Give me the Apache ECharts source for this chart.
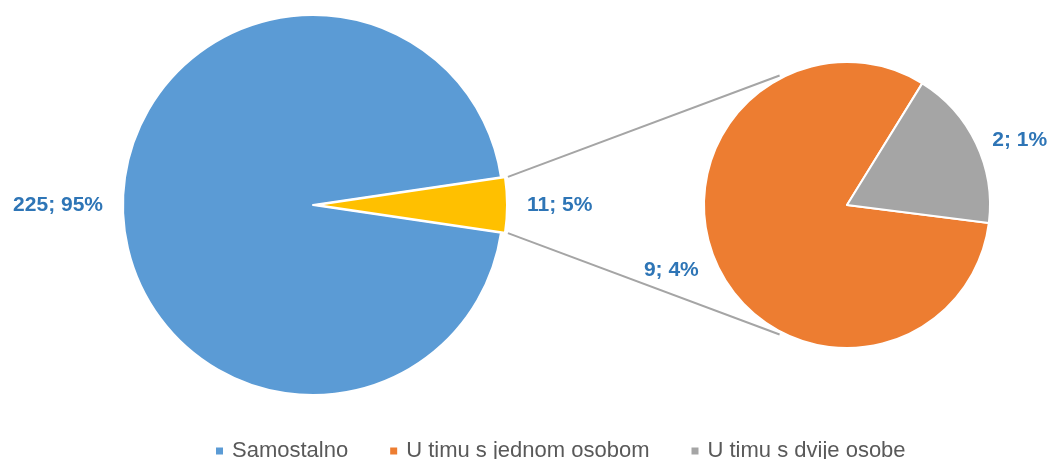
<!DOCTYPE html>
<html>
<head>
<meta charset="utf-8">
<script src="https://cdn.jsdelivr.net/npm/echarts@6/dist/echarts.min.js"></script>
<style>
html,body{margin:0;padding:0;background:#fff;}
#chart{width:1048px;height:459px;}
</style>
</head>
<body>
<div id="chart"></div>
<script>
// ---- data ----
const mainNames = ['Samostalno', 'Ostalo'];
const mainValues = [225, 11];
const subNames = ['U timu s jednom osobom', 'U timu s dvije osobe'];
const subValues = [9, 2];
const legendNames = ['Samostalno', 'U timu s jednom osobom', 'U timu s dvije osobe'];

// ---- style / layout ----
const mainColors = ['#5B9BD5', '#FFC000'];
const subColors = ['#ED7D31', '#A5A5A5'];
const labelColor = '#2E75B6';
const font = "'Liberation Sans', Arial, sans-serif";
const mainCenter = [313, 205], mainR = 190;
const subCenter = [847, 205], subR = 143;
const explode = 4;
const connectorAngle = 117.5; // degrees, where connectors meet the secondary pie

const total = mainValues.reduce((a, b) => a + b, 0);
const otherTotal = subValues.reduce((a, b) => a + b, 0);
const halfOther = mainValues[1] / total * 360 / 2;
// secondary pie: the split slice ends just below the horizontal on the right
const subStart = 360 - 7.2;

const pct = v => Math.round(v / total * 100) + '%';
const labelCommon = {
  show: true,
  position: 'outside',
  color: labelColor,
  fontFamily: font,
  fontWeight: 'bold',
  fontSize: 21,
  formatter: p => p.value + '; ' + pct(p.value)
};

const chart = echarts.init(document.getElementById('chart'), null, {renderer: 'canvas'});

function rad(d) { return d * Math.PI / 180; }
const p1 = [mainCenter[0] + explode + (mainR + 3) * Math.cos(rad(halfOther)), mainCenter[1] - (mainR + 3) * Math.sin(rad(halfOther))];
const p2 = [mainCenter[0] + explode + (mainR + 3) * Math.cos(rad(-halfOther)), mainCenter[1] - (mainR + 3) * Math.sin(rad(-halfOther))];
const q1 = [subCenter[0] + (subR + 3) * Math.cos(rad(connectorAngle)), subCenter[1] - (subR + 3) * Math.sin(rad(connectorAngle))];
const q2 = [subCenter[0] + (subR + 3) * Math.cos(rad(-connectorAngle)), subCenter[1] - (subR + 3) * Math.sin(rad(-connectorAngle))];

chart.setOption({
  animation: false,
  backgroundColor: '#fff',
  legend: {
    data: legendNames,
    left: 216,
    top: 440,
    padding: 0,
    icon: 'rect',
    itemWidth: 7,
    itemHeight: 7,
    itemGap: 42,
    selectedMode: false,
    itemStyle: {borderWidth: 0},
    textStyle: {color: '#595959', fontSize: 22, fontFamily: font, padding: [0, 0, 0, 4]}
  },
  graphic: [
    {type: 'line', shape: {x1: p1[0], y1: p1[1], x2: q1[0], y2: q1[1]}, style: {stroke: '#A5A5A5', lineWidth: 2}, z: 0},
    {type: 'line', shape: {x1: p2[0], y1: p2[1], x2: q2[0], y2: q2[1]}, style: {stroke: '#A5A5A5', lineWidth: 2}, z: 0}
  ],
  series: [
    {
      type: 'pie',
      center: mainCenter,
      radius: mainR,
      startAngle: 360 - halfOther,
      clockwise: true,
      avoidLabelOverlap: false,
      selectedMode: 'single',
      selectedOffset: explode,
      itemStyle: {borderColor: '#fff', borderWidth: 2},
      label: labelCommon,
      labelLine: {show: false, length: 8, length2: 7},
      emphasis: {disabled: true},
      select: {disabled: false, itemStyle: {borderColor: '#fff', borderWidth: 2}},
      data: mainNames.map((n, i) => ({name: n, value: mainValues[i], selected: i === 1, itemStyle: {color: mainColors[i]}}))
    },
    {
      type: 'pie',
      center: subCenter,
      radius: subR,
      startAngle: subStart,
      clockwise: true,
      avoidLabelOverlap: false,
      itemStyle: {borderColor: '#fff', borderWidth: 2},
      label: labelCommon,
      labelLine: {show: false, length: 8, length2: 7},
      emphasis: {disabled: true},
      data: subNames.map((n, i) => ({
        name: n, value: subValues[i],
        itemStyle: {color: subColors[i]},
        labelLine: i === 1 ? {show: false, length: 8, length2: 4} : undefined
      }))
    }
  ]
});
</script>
</body>
</html>
